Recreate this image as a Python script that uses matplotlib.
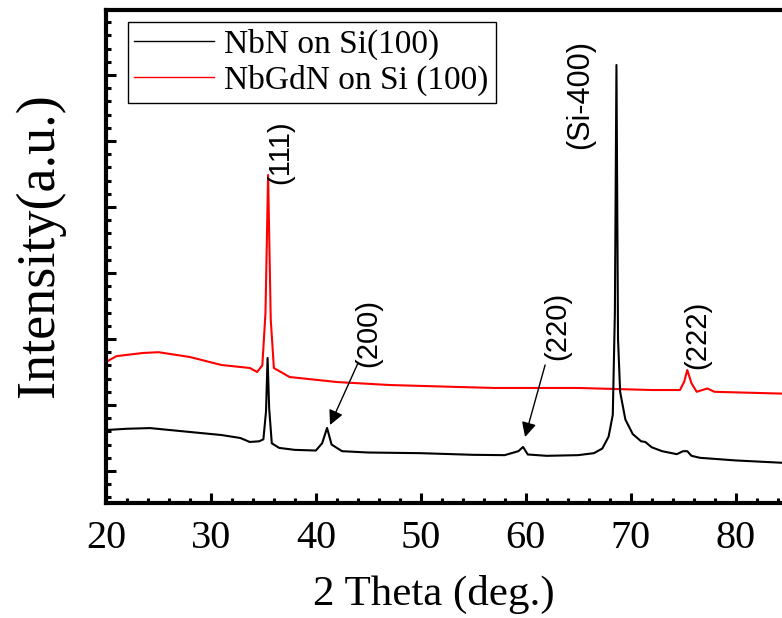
import numpy as np
import matplotlib.pyplot as plt
from matplotlib.ticker import MultipleLocator, NullFormatter

# XRD scans, 2theta (deg) vs counts
nbn_2theta = [20, 22, 24.2, 28, 31, 32.8, 33.7, 34.6, 35.0, 35.25, 35.4, 35.55, 35.8, 36.5,
              38, 40, 40.6, 41.07, 41.5, 42.5, 45, 50, 55, 58, 59.3, 59.75, 60.2, 62, 65,
              66.5, 67.3, 67.9, 68.3, 68.5, 68.65, 68.8, 69.0, 69.5, 70.2, 71.0, 71.4, 72.0,
              73, 74.4, 75.0, 75.4, 75.8, 76.6, 80, 85]
nbn_counts = [1621, 1640, 1650, 1591, 1545, 1500, 1440, 1450, 1480, 1900, 2712, 1950, 1420, 1350,
              1320, 1310, 1420, 1652, 1400, 1300, 1280, 1270, 1245, 1240, 1300, 1364, 1250, 1230, 1240,
              1270, 1340, 1520, 1850, 3400, 7152, 3000, 2200, 1780, 1560, 1450, 1440, 1360,
              1300, 1255, 1300, 1300, 1230, 1200, 1160, 1120]

nbgdn_2theta = [20, 21, 23.5, 25, 28, 31, 33.7, 34.4, 34.9, 35.2, 35.45, 35.7, 36.0, 37.5,
                42, 47, 52, 57, 65, 72, 74.7, 75.1, 75.4, 75.8, 76.3, 77.3, 78, 85]
nbgdn_counts = [2652, 2740, 2788, 2800, 2727, 2606, 2561, 2500, 2600, 3400, 5485, 3300, 2560, 2424,
                2348, 2303, 2280, 2258, 2258, 2227, 2227, 2350, 2530, 2330, 2200, 2250, 2200, 2170]

# peak labels: text, x, y
peak_labels = [("(111)", 36.59, 5833), ("(200)", 44.98, 3091), ("(220)", 63.0, 3197),
               ("(222)", 76.34, 3061), ("(Si-400)", 65.19, 6700)]
# arrows: (tail x, tail y) -> (head x, head y)
peak_arrows = [((44.02, 2636), (41.35, 1697)), ((61.85, 2606), (59.94, 1515))]

fig = plt.figure(figsize=(7.82, 6.18), dpi=100)
ax = fig.add_axes([106 / 782, 115 / 618, 682 / 782, 493 / 618])

l2, = ax.plot(nbgdn_2theta, nbgdn_counts, color='red', lw=1.5, label='NbGdN on Si (100)')
l1, = ax.plot(nbn_2theta, nbn_counts, color='black', lw=1.5, label='NbN on Si(100)')

ax.set_xlim(20, 85)
ax.set_ylim(515, 7985)

ax.xaxis.set_major_locator(MultipleLocator(10))
ax.xaxis.set_minor_locator(MultipleLocator(2))
ax.yaxis.set_major_locator(MultipleLocator(1000))
ax.yaxis.set_minor_locator(MultipleLocator(200))
ax.yaxis.set_major_formatter(NullFormatter())

for s in ax.spines.values():
    s.set_linewidth(3)
ax.tick_params(which='both', direction='in', top=False, right=False, width=2.2)
ax.tick_params(which='major', length=7.5)
ax.tick_params(which='minor', length=3.8)
ax.tick_params(axis='x', labelsize=29, pad=12)
for t in ax.get_xticklabels():
    t.set_family('Liberation Serif')

for txt, x, y in peak_labels:
    ax.text(x, y, txt, rotation=90, ha='center', va='center',
            fontsize=22 if txt.startswith('(Si') else 21, family='Liberation Sans')
for (x0, y0), (x1, y1) in peak_arrows:
    ax.annotate('', xy=(x1, y1), xytext=(x0, y0),
                arrowprops=dict(arrowstyle='-|>', mutation_scale=22, lw=1.0,
                                color='black', shrinkA=0, shrinkB=0))

leg = ax.legend(handles=[l1, l2], loc='upper left', bbox_to_anchor=(0.032, 0.976),
                borderaxespad=0, fancybox=False, framealpha=1, edgecolor='black',
                prop={'family': 'Liberation Serif', 'size': 24}, handlelength=2.4,
                handletextpad=0.3, borderpad=0.2, labelspacing=0.15)
leg.get_frame().set_linewidth(1.0)
for h in leg.get_lines():
    h.set_linewidth(1.0)

fig.text(434 / 782, (618 - 605) / 618, '2 Theta (deg.)', ha='center', va='baseline',
         fontsize=31, family='Liberation Serif')
fig.text(40 / 782, (618 - 245) / 618, 'Intensity(a.u.)', rotation=90, ha='center', va='center',
         fontsize=39, family='Liberation Serif')

fig.savefig('out.png', dpi=100)
